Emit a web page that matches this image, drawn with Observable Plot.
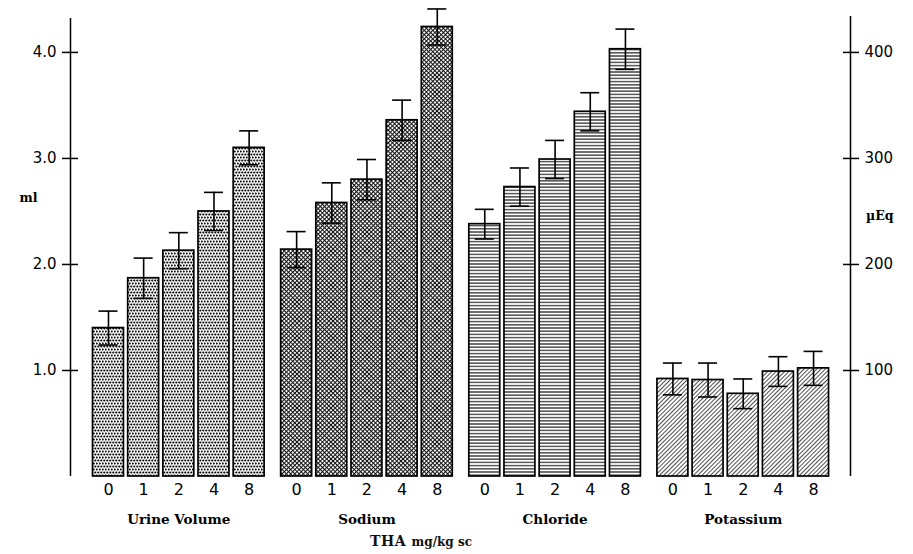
<!DOCTYPE html>
<html><head><meta charset="utf-8">
<script src="https://cdn.jsdelivr.net/npm/d3@7"></script>
<script src="https://cdn.jsdelivr.net/npm/@observablehq/plot@0.6"></script>
<style>
body{margin:0;background:#fff;}
#wrap{position:relative;width:913px;height:554px;overflow:hidden;}
#cap{position:absolute;left:0;top:531px;width:842px;text-align:center;font-family:"DejaVu Serif",serif;font-weight:bold;color:#111;}
#cap .a{font-size:14px;letter-spacing:0.5px;}
#cap .b{font-size:12px;}
</style></head><body><div id="wrap"></div>
<script>
const groups = ["Urine Volume", "Sodium", "Chloride", "Potassium"];
const doses = ["0", "1", "2", "4", "8"];
const urineMl = [1.40, 1.87, 2.13, 2.50, 3.10];
const urineSeMl = [0.16, 0.19, 0.17, 0.18, 0.16];
const sodium = [214, 258, 280, 336, 424];
const sodiumSe = [17, 19, 19, 19, 17];
const chloride = [238, 273, 299, 344, 403];
const chlorideSe = [14, 18, 18, 18, 19];
const potassium = [92, 91, 78, 99, 102];
const potassiumSe = [15, 16, 14, 14, 16];
const mlTicks = [1, 2, 3, 4];
const ueqTicks = [100, 200, 300, 400];
const patterns = ["dots", "cross", "hlines", "diag"];

// on this chart 1.0 ml on the left axis lines up with 100 µEq on the right axis
const uEqPerMl = 100;
const groupStep = 5.35;
const series = [
  urineMl.map(v => v * uEqPerMl),
  sodium, chloride, potassium
];
const seSeries = [
  urineSeMl.map(v => v * uEqPerMl),
  sodiumSe, chlorideSe, potassiumSe
];
const rows = [];
groups.forEach((g, gi) => doses.forEach((d, j) => rows.push({
  group: g, gi, dose: d, pos: gi * groupStep + j,
  value: series[gi][j], se: seSeries[gi][j]
})));
const groupRows = groups.map((g, gi) => ({group: g, pos: gi * groupStep + 2}));

const xDomain = [-1.08, 21.1];
const yMax = 432;
const half = 0.44, cap = 0.27;

const marks = [];
groups.forEach((g, gi) => {
  marks.push(Plot.rect(rows.filter(r => r.gi === gi), {
    x1: d => d.pos - half, x2: d => d.pos + half, y1: 0, y2: "value",
    fill: `url(#${patterns[gi]})`, stroke: "black", strokeWidth: 1.7
  }));
});
marks.push(
  Plot.ruleX(rows, {x: "pos", y1: d => d.value - d.se, y2: d => d.value + d.se, stroke: "black", strokeWidth: 1.6}),
  Plot.ruleY(rows, {y: d => d.value + d.se, x1: d => d.pos - cap, x2: d => d.pos + cap, stroke: "black", strokeWidth: 1.6}),
  Plot.ruleY(rows, {y: d => d.value - d.se, x1: d => d.pos - cap, x2: d => d.pos + cap, stroke: "black", strokeWidth: 1.6}),
  Plot.ruleX([xDomain[0]], {y1: 0, y2: yMax, stroke: "black", strokeWidth: 1.5}),
  Plot.ruleX([xDomain[1]], {y1: 0, y2: yMax + 2, stroke: "black", strokeWidth: 1.5}),
  Plot.axisY(mlTicks.map(v => v * uEqPerMl), {anchor: "left", tickSize: 16, dx: 8, tickFormat: () => "", label: null, strokeWidth: 1.5}),
  Plot.axisY(mlTicks.map(v => v * uEqPerMl), {anchor: "left", tickSize: 0, tickPadding: 14, tickFormat: d => (d / uEqPerMl).toFixed(1), label: null, fontSize: 15, fontFamily: "DejaVu Sans"}),
  Plot.axisY(ueqTicks, {anchor: "right", tickSize: 16, dx: -8, tickFormat: () => "", label: null, strokeWidth: 1.5}),
  Plot.axisY(ueqTicks, {anchor: "right", tickSize: 0, tickPadding: 14, tickFormat: d => String(d), label: null, fontSize: 15, fontFamily: "DejaVu Sans"}),
  Plot.text(rows, {x: "pos", y: 0, text: "dose", dy: 13, fontSize: 16, fontFamily: "DejaVu Sans"}),
  Plot.text(groupRows, {x: "pos", y: 0, text: "group", dy: 43, fontSize: 13.5, fontWeight: "bold", fontFamily: "DejaVu Serif"}),
  Plot.text(["ml"], {frameAnchor: "left", y: 263, dx: -51, text: d => d, fontSize: 12.5, fontWeight: "bold", fontFamily: "DejaVu Serif"}),
  Plot.text(["\u00b5Eq"], {frameAnchor: "right", y: 246, dx: 43, text: d => d, fontSize: 12.5, fontWeight: "bold", fontFamily: "DejaVu Serif"})
);

const chart = Plot.plot({
  width: 913, height: 530,
  marginLeft: 70, marginRight: 63, marginTop: 18, marginBottom: 54,
  x: {type: "linear", domain: xDomain, axis: null},
  y: {domain: [0, yMax]},
  style: {background: "white", color: "black", fontFamily: "DejaVu Sans"},
  marks
});
d3.select(chart).insert("defs", ":first-child").html(`
<pattern id="dots" width="3" height="6" patternUnits="userSpaceOnUse"><rect width="3" height="6" fill="white"/><circle cx="0.75" cy="1.5" r="1.1" fill="#111"/><circle cx="2.25" cy="4.5" r="1.1" fill="#111"/><circle cx="-0.75" cy="4.5" r="1.1" fill="#111"/></pattern>
<pattern id="cross" width="3" height="3" patternUnits="userSpaceOnUse" patternTransform="rotate(45)"><rect width="3" height="3" fill="white"/><path d="M0 0.5H3M0.5 0V3" stroke="#111" stroke-width="1.1"/></pattern>
<pattern id="hlines" width="4" height="3.2" patternUnits="userSpaceOnUse"><rect width="4" height="3.2" fill="white"/><path d="M0 1.6H4" stroke="#222" stroke-width="1.2"/></pattern>
<pattern id="diag" width="3" height="3" patternUnits="userSpaceOnUse" patternTransform="rotate(-45)"><rect width="3" height="3" fill="white"/><path d="M0 1.5H3" stroke="#222" stroke-width="0.8"/></pattern>
`);
const wrap = document.getElementById("wrap");
wrap.appendChild(chart);
const capDiv = document.createElement("div");
capDiv.id = "cap";
capDiv.innerHTML = '<span class="a">THA</span> <span class="b">mg/kg sc</span>';
wrap.appendChild(capDiv);
</script></body></html>
